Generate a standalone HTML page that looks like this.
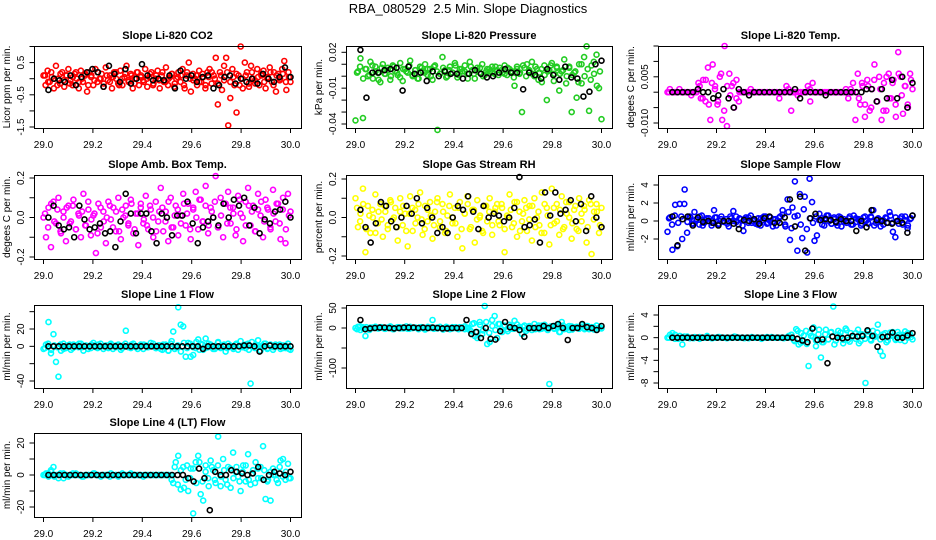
<!DOCTYPE html>
<html><head><meta charset="utf-8"><style>
body{margin:0;background:#fff;}
svg{display:block;font-family:"Liberation Sans",sans-serif;}
</style></head><body>
<svg id="chart" width="936" height="540" viewBox="0 0 936 540">
<rect width="936" height="540" fill="#fff"/>
<text x="468" y="13" text-anchor="middle" font-size="13">RBA_080529&#160; 2.5 Min. Slope Diagnostics</text>
</svg>
<script>
const xTicks = [29.0, 29.2, 29.4, 29.6, 29.8, 30.0];
const xTickLabels = ["29.0","29.2","29.4","29.6","29.8","30.0"];

const co2Vals = [0.1,-0.2,0.25,-0.1,0.05,-0.3,0.4,0.0,-0.15,0.2,-0.25,0.1,0.3,-0.05,-0.2,0.15,0.0,-0.3,0.25,-0.1,0.1,-0.4,0.2,0.05,-0.2,0.3,-0.1,0.0,0.15,-0.25,0.35,-0.05,0.1,-0.3,0.2,0.0,-0.15,0.25,-0.2,0.05,0.4,-0.1,0.15,-0.3,0.0,0.2,-0.2,0.1,-0.05,0.3,-0.25,0.05,0.2,-0.15,0.0,0.25,-0.3,0.1,-0.1,0.35,-0.2,0.05,0.15,-0.25,0.0,0.2,-0.1,0.3,-0.3,0.1,0.5,-0.4,0.15,0.0,-0.2,0.25,-0.1,0.05,-0.3,0.2,0.3,-0.15,0.1,0.65,-0.8,0.2,-0.35,0.4,0.65,-1.45,-0.6,0.3,-0.2,-1.05,0.1,1.0,-0.3,0.5,0.2,-0.25,0.4,0.0,-0.15,0.3,-0.2,0.1,0.25,-0.3,0.05,0.35,-0.1,0.2,-0.4,0.15,0.0,0.3,0.55,-0.35,0.2,-0.1];
const co2Core = [0.1,-0.1,0.2,0.0,-0.2,0.15,-0.05,0.1,-0.15,0.05,0.2,-0.1,0.0,0.15,-0.2,0.1,-0.05,0.2,0.0,-0.15,0.1,-0.1,0.05,0.2,-0.2,0.0,0.15,-0.05,0.1,-0.15,0.2,0.05,-0.1,0.0,0.15,-0.2,0.1,-0.05,0.2,-0.1,0.0,0.15,-0.15,0.05,0.1,-0.2,0.2,0.0,-0.05,0.1,-0.1,0.15,-0.2,0.05,0.2,0.0,-0.15,0.1,-0.05,0.2,-0.1,0.05,0.15,-0.2,0.0,0.1,-0.15,0.2,-0.05,0.05,0.15,-0.1,0.0,0.2,-0.2,0.1,-0.05,0.15,-0.1,0.05];
const co2Blk = [-0.35,0.0,-0.05,-0.1,0.1,-0.2,0.05,0.2,0.3,0.2,-0.25,0.4,0.15,-0.1,0.3,-0.15,0.0,0.45,0.1,-0.05,0.0,-0.05,0.1,-0.3,0.25,0.0,0.1,-0.1,0.05,0.1,-0.3,-0.2,0.05,0.1,-0.15,0.0,-0.1,0.0,-0.15,0.15,0.0,-0.1,0.05,0.35,0.05];
const presVals = [-0.037,0.004,0.015,-0.035,0.006,0.0,0.012,-0.002,0.008,0.003,-0.005,0.01,0.002,0.007,-0.003,0.009,0.004,0.001,0.011,-0.004,0.006,0.003,0.013,0.0,0.005,-0.002,0.008,0.004,0.01,0.001,0.006,-0.003,0.009,-0.045,0.002,0.016,0.005,0.0,0.008,0.003,0.011,-0.001,0.006,0.004,0.009,0.002,0.012,0.005,-0.002,0.007,0.003,0.01,0.001,0.006,0.004,0.008,0.002,0.005,0.007,0.003,0.009,0.001,0.006,0.004,-0.008,0.008,0.002,-0.03,0.007,0.01,0.004,0.012,0.0,0.006,0.003,-0.005,0.009,-0.02,0.005,0.011,0.002,0.008,-0.012,0.004,0.014,0.0,0.007,-0.03,0.003,-0.018,0.01,-0.006,0.016,0.025,-0.029,0.009,0.002,0.018,-0.01,-0.036];
const presCore = [0.003,0.008,-0.002,0.006,0.001,0.009,0.004,-0.003,0.007,0.002,0.005,0.0,0.008,0.003,-0.001,0.006,0.004,0.009,0.001,0.005,-0.002,0.007,0.003,0.006,0.0,0.008,0.004,0.002,0.007,-0.001,0.005,0.003,0.009,0.001,0.006,0.004,-0.002,0.008,0.002,0.005,0.007,0.0,0.004,0.006,0.003,0.008,0.001,0.005,0.002,0.007,0.004,-0.001,0.006,0.003,0.009,0.0,0.005,0.002,0.008,-0.003,0.006,0.001,0.004,0.009,-0.004,0.007,0.002,0.005,-0.006,0.008,0.001,0.004,-0.005,0.01,0.0,0.006,-0.003,0.012,-0.008,0.004];
const presBlk = [0.022,-0.018,0.003,0.003,0.005,0.006,0.007,-0.012,0.008,0.002,0.003,-0.004,0.004,0.0,0.004,0.002,0.002,-0.002,0.002,0.005,0.002,-0.001,0.0,0.003,0.006,0.003,0.003,-0.011,0.003,0.001,-0.002,0.006,0.001,-0.003,0.008,-0.001,-0.002,-0.017,-0.013,0.01,0.013];
const tempVals = [0,0.001,0,0,0,0.001,0,0,0,0,-0.001,0,0,0.003,-0.002,0.004,-0.003,0.008,-0.009,0.009,0.002,-0.004,0.005,-0.009,0.015,-0.011,0.006,0.002,-0.005,0.004,-0.003,0,0,0,0,0.001,0,0,0,0,0,0,0,0,0,0,0,-0.002,0,0,0.002,0,-0.006,0,0,0,0,0,0,0.002,-0.003,0.003,0,0,0,0,0,0,0,0,0,0,0,0,0,0.001,-0.002,0.001,0.003,-0.009,0.006,-0.004,0.002,-0.008,0.004,-0.006,0.001,0.009,-0.003,0.005,-0.009,0.003,-0.006,0.006,-0.002,0.004,-0.008,0.013,0.005,-0.007,0.002,-0.004,0.006,0.001];
const tempCore = [0,0,0,0,0,0,0,0,0,0,0.002,-0.002,0.004,-0.004,0.003,0.001,-0.003,0.006,-0.006,0.002,-0.001,0.003,-0.002,0,0,0,0,0,0,0,0,0,0,0,0,0,0,0,0,0.001,0,0,-0.001,0,0,0,0.001,0,0,0,0,0,0,0,0,0,0,0,0,0,0,0,-0.002,0.003,-0.004,0.002,-0.005,0.004,-0.003,0.001,-0.006,0.005,-0.002,0.003,-0.004,0.006,-0.001,0.002,-0.005,0.004];
const tempBlk = [0,0,0,0,0,0.001,0,0,-0.002,-0.001,0.001,-0.002,-0.005,0.001,0,-0.001,0,0,0,0,0,0,0,0,0.001,-0.002,0,0,0,0,-0.001,0,0,0,0,0,0,0,0.001,0.001,-0.003,0.001,-0.002,0.004,-0.002,0.005,-0.005,0.003];
const ambVals = [0.0,-0.1,0.05,-0.15,0.08,-0.03,0.1,-0.08,0.03,-0.12,0.06,-0.02,0.09,-0.06,0.02,-0.1,0.12,-0.04,0.04,-0.09,0.01,-0.18,0.07,-0.05,0.03,-0.13,0.08,-0.01,0.05,-0.07,0.1,-0.11,0.0,0.06,-0.04,0.09,-0.08,0.02,-0.14,0.07,-0.03,0.11,-0.06,0.04,-0.1,0.08,-0.02,0.15,-0.07,0.03,-0.12,0.1,-0.05,0.06,-0.09,0.01,0.12,-0.04,0.07,-0.11,0.04,0.13,-0.06,0.09,-0.02,0.16,-0.08,0.05,0.0,0.21,-0.05,0.1,-0.1,0.07,0.13,-0.03,0.05,-0.09,0.11,0.02,-0.12,0.08,0.15,-0.04,0.06,-0.07,0.12,0.01,-0.1,0.09,0.04,-0.06,0.14,-0.02,0.07,-0.11,0.1,-0.13,0.12,0.03];
const ambCore = [0.02,-0.05,0.07,-0.02,0.04,-0.07,0.0,0.05,-0.03,0.06,-0.06,0.01,0.03,-0.04,0.08,-0.01,0.02,-0.08,0.05,-0.02,0.0,0.06,-0.05,0.03,-0.07,0.04,0.01,-0.03,0.07,-0.06,0.02,0.05,-0.01,-0.04,0.06,0.0,-0.07,0.03,0.05,-0.02,0.08,-0.05,0.01,0.04,-0.03,0.07,0.02,-0.06,0.05,0.0,0.09,-0.02,0.06,-0.04,0.03,0.08,-0.05,0.01,0.07,-0.03,0.05,0.02,-0.06,0.09,0.0,-0.04,0.06,0.03,-0.07,0.04,0.08,-0.02,0.05,-0.05,0.02,0.07,-0.03,0.04,-0.06,0.01];
const ambBlk = [0.0,0.06,-0.04,-0.06,-0.05,-0.1,0.06,-0.01,-0.06,-0.05,-0.03,-0.08,-0.07,-0.15,-0.02,0.12,0.02,-0.08,0.02,0.02,-0.07,-0.13,0.02,0.0,-0.09,0.01,0.01,0.08,-0.03,-0.13,-0.05,-0.02,0.0,-0.04,0.07,0.0,0.09,0.06,0.1,-0.04,0.05,-0.08,-0.01,-0.03,0.03,0.04,0.08,0.0];
const rhVals = [0.1,-0.05,0.02,0.15,-0.18,0.06,-0.08,0.0,0.12,-0.03,0.07,-0.1,0.03,-0.06,0.09,-0.01,0.05,-0.12,0.1,-0.04,0.02,-0.15,0.11,-0.07,0.04,0.0,0.13,-0.09,0.06,-0.02,0.08,-0.11,0.03,0.1,-0.05,0.07,-0.08,0.01,0.12,-0.03,0.05,-0.1,0.08,-0.16,0.02,0.11,-0.06,0.04,-0.13,0.09,0.0,-0.07,0.06,-0.02,0.1,-0.09,0.03,0.07,-0.04,0.05,-0.18,0.01,0.12,-0.05,0.08,-0.1,0.03,-0.02,0.09,-0.07,0.06,-0.12,0.1,0.0,-0.04,0.13,-0.08,0.05,-0.14,0.15,-0.03,0.07,-0.09,0.11,-0.05,0.02,0.08,-0.11,0.04,-0.06,0.1,-0.02,0.06,-0.13,0.09,-0.19,0.03,0.07,-0.08,0.05];
const rhCore = [0.05,-0.02,0.07,-0.06,0.01,0.04,-0.08,0.03,-0.01,0.06,-0.04,0.08,0.0,-0.05,0.03,0.06,-0.07,0.02,0.05,-0.03,0.07,-0.01,-0.06,0.04,0.01,-0.04,0.08,-0.02,0.03,-0.07,0.06,0.0,-0.03,0.05,-0.06,0.02,0.07,-0.05,0.04,-0.01,0.01,-0.08,0.06,0.03,-0.04,0.05,-0.02,0.07,-0.06,0.0,0.04,-0.03,0.08,-0.07,0.02,0.05,-0.01,0.06,-0.05,0.03,-0.08,0.07,0.01,-0.04,0.05,-0.02,0.04,-0.06,0.08,0.0,-0.03,0.06,-0.07,0.02,0.04,-0.05,0.07,-0.01,0.03,-0.04];
const rhBlk = [0.04,-0.05,-0.13,-0.03,0.08,0.06,-0.02,-0.05,0.0,0.06,0.02,0.1,-0.03,0.05,0.0,-0.08,-0.05,-0.08,0.0,0.06,0.04,0.11,0.03,-0.06,0.06,0.0,0.02,0.01,-0.02,0.0,0.05,0.21,-0.05,-0.04,-0.01,-0.13,0.13,0.01,0.13,0.02,0.04,0.09,-0.02,0.07,-0.07,0.11,0.0,-0.05];
const flowVals = [-1.2,0.4,-3.2,0.6,-2.8,1.9,-2.0,3.5,-1.3,0.5,-0.3,1.0,0.2,-0.4,0.6,-0.2,0.3,0.0,-0.5,1.2,0.4,-0.3,0.5,-0.1,0.2,-0.6,0.3,0.0,0.5,-0.4,0.2,-1.1,0.4,-0.2,0.6,0.0,-0.3,0.3,-0.5,0.1,0.5,-0.2,0.4,-0.6,0.2,0.0,0.5,1.2,-0.4,2.4,-2.1,1.5,4.4,-3.3,3.0,-1.9,2.7,-3.5,4.7,2.1,-2.2,-1.6,0.8,0.3,-0.5,0.6,0.0,-0.3,0.4,-0.2,0.5,-0.6,0.2,0.0,0.3,-0.4,0.6,-0.1,0.2,-0.5,0.4,0.0,-0.3,0.5,1.2,-0.2,0.3,-0.6,0.1,0.4,-0.2,0.6,-1.2,-1.8,0.0,0.3,-0.4,0.5,-0.8,0.2,0.6];
const flowCore = [0.3,-0.4,1.8,-0.2,0.5,1.9,-0.1,0.4,-0.3,0.2,0.5,-0.5,0.1,0.3,-0.2,0.4,-0.4,0.2,0.0,-0.3,0.5,1.1,-0.1,0.3,-0.5,0.2,0.4,-0.2,0.1,-0.4,0.3,0.5,-0.3,0.0,0.2,-0.5,0.4,0.7,-0.6,1.0,-0.8,0.5,0.6,-0.4,1.3,-0.9,0.3,-0.2,0.5,0.1,-0.4,0.3,0.6,-0.3,0.2,-0.5,0.4,0.0,-0.2,0.5,-0.4,0.3,0.1,-0.3,0.5,-0.2,0.4,-0.5,0.2,0.0,-0.4,0.3,1.0,-0.2,0.4,-0.3,0.5,0.1,-0.5,0.3];
const flowBlk = [0.5,-2.7,0.2,0.5,-0.5,0.4,-0.1,0.0,-0.2,-0.5,0.0,0.0,-0.3,-0.9,0.1,0.0,0.2,-0.3,0.3,0.5,-0.2,-0.2,0.4,2.4,-0.6,2.7,-3.3,0.3,0.8,0.1,0.2,0.1,-0.1,0.2,0.0,0.0,-1.1,0.0,-0.7,1.2,0.1,0.0,-0.2,-0.3,0.0,-0.2,-1.3,0.6];
const l1Vals = [-3,2,28,-8,14,-18,-35,-5,3,-2,1,-4,2,0,-1,3,-5,1,0,-2,4,-1,2,0,-3,1,-2,3,0,-1,2,-4,1,18,0,-2,3,-1,0,2,-3,1,-1,4,0,-2,1,-3,2,0,-5,3,17,-1,45,25,23,-12,4,-12,-10,-2,8,3,-4,9,-1,2,-3,0,5,-2,1,-6,3,0,-1,2,-4,6,0,-2,3,-43,-1,2,7,-5,0,3,-2,1,-4,2,0,-3,1,-2,3,-4];
const l1Core = [-2,3,-4,1,-1,2,-3,0,2,-2,1,3,-1,0,-3,2,1,-2,3,0,-1,2,-3,1,0,-2,3,-1,2,0,-3,1,2,-1,0,3,-2,1,-4,2,-5,6,-3,1,-6,4,-2,3,-1,5,-4,2,-2,3,0,-3,4,-1,2,-2,1,-3,3,0,-1,2,-4,5,-2,1,0,3,-3,2,-1,0,2,-2,1,-3];
const l1Blk = [0,0,0,0,0,0,0,0,0,0,0,0,0,0,0,0,0,0,0,0,0,0,0,0,0,0,0,0,0,0,-3,0,0,0,0,0,0,0,1,1,0,-6,0,1,0,0,0,0];
const l2Vals = [0,3,-5,2,-20,-2,1,0,3,-1,2,0,-2,1,4,-3,0,2,-1,1,0,-2,3,0,1,-1,2,0,-4,1,2,20,0,-1,3,-2,0,1,-3,2,0,-1,2,0,-3,1,-5,10,-20,-25,15,-15,55,-40,-35,20,30,-25,10,-10,5,-3,8,-2,18,0,3,-15,6,-2,4,-5,10,2,-3,6,0,-1,-140,4,-2,8,-10,15,-3,2,-5,4,0,3,-2,8,0,5,-3,2,-4,6,0,-1];
const l2Core = [-3,4,-2,2,-5,1,3,-1,2,-2,0,3,-3,1,2,-1,4,-2,0,1,-3,2,-1,3,0,-2,1,2,-4,3,0,-1,2,-3,1,4,-2,-8,12,-10,8,-6,15,-12,5,-5,10,-3,6,-8,4,-2,9,-4,3,-7,5,0,-3,6,-2,8,-5,4,-1,3,-10,6,-2,5,-4,2,0,3,-3,5,-1,2,-4,1];
const l2Blk = [20,-3,-1,0,1,1,0,-1,0,1,1,1,0,1,0,1,0,-1,-1,0,0,0,20,-15,-10,-25,0,-27,-29,-8,15,2,0,-5,-22,0,0,0,5,0,5,10,0,-30,0,0,10,2,0,-5,5];
const l3Vals = [0,0.5,0.8,-0.2,0,0.3,-1.2,0,0.2,-0.1,0,0.1,0,-0.2,0,0,0.3,0,-0.1,0,0,0.1,0,0,-0.1,0,0,0.2,0,0,0,-0.1,0,0,0.1,0,0,0,-0.2,0,0,0,0.1,0,0,0,0,-0.1,0,0.3,0.5,-0.4,1.5,-1.2,0.8,-0.6,1.2,-5,0.3,1.8,-1.5,0.6,-3.5,-0.8,1.4,-0.3,0.9,5.5,-0.5,1.2,0.2,-1.0,1.6,-0.4,0.8,0.3,-0.2,1.4,-0.6,0.4,-8,0.6,-0.3,1.2,0.2,2.3,-2.4,-3.2,0.8,-0.5,0.9,0.3,-0.2,1.0,-0.4,0.5,1.1,0.0,0.6,-0.3];
const l3Core = [0,0.3,0.5,-0.2,0,0.2,0,0,-0.1,0,0.1,0,0,0,-0.1,0,0.1,0,0,0,0,0,0.1,0,0,0,-0.1,0,0,0,0,0,0.1,0,0,0,0,0,0,0,0.5,-0.6,1.2,-0.9,0.4,-1.1,0.8,0.2,-0.5,1.4,-0.8,0.6,-0.3,1.0,-1.2,0.5,0.9,-0.4,1.3,-0.7,0.2,0.8,-1.0,0.6,-0.2,1.1,-0.5,0.4,0.9,-0.3,0.6,-0.8,0.3,1.0,-0.4,0.5,0.2,-0.6,0.8,0.1];
const l3Blk = [0,0,0,0,0,0,0,0,0,0,0,0,0,0,0,0,0,0,0,0,0,0,0,0,0,-0.2,-0.5,-0.8,1.6,-0.4,-0.3,-4.5,0.2,0,-0.1,0,0.3,0.2,0.3,1.3,0.3,-1.6,0.1,0.2,0.9,0,0,0.4,0.8];
const l4Vals = [0,1,-1,3,5,0,-2,0,1,0,-1,0,0,1,0,0,-1,0,0,0,1,0,0,-1,0,0,0,1,0,0,-1,0,0,0,0,1,0,0,0,0,-1,0,0,0,0,0,0,0,0,0,0,0,-5,8,12,-9,5,-3,-10,4,-24,8,12,-12,-16,6,-2,9,3,-5,24,-7,10,-3,5,-8,14,2,-1,-10,6,-4,13,-6,3,8,-2,5,18,-15,-3,-16,4,0,-5,9,10,-3,7,-2];
const l4Core = [0,1,2,-1,0,1,-2,0,0,1,0,0,-1,0,0,0,1,0,0,0,0,-1,0,0,0,1,0,0,0,0,0,0,0,0,0,0,0,0,0,0,0,-3,5,-6,3,-8,6,-2,4,-5,8,-4,2,-7,5,-3,6,-1,3,-6,4,-2,5,-4,2,6,-3,1,-5,4,-2,3,-4,2,0,-3,5,-1,2,-2];
const l4Blk = [0,0,0,0,0,0,0,0,0,0,0,0,0,0,0,0,0,0,0,0,0,0,0,0,0,0,-2,-4,4,-2,-22,2,0,0,3,2,1,0,1,5,-3,0,2,1,0,2];

const panelTitles = ["Slope Li-820 CO2","Slope Li-820 Pressure","Slope Li-820 Temp.","Slope Amb. Box Temp.","Slope Gas Stream RH","Slope Sample Flow","Slope Line 1 Flow","Slope Line 2 Flow","Slope Line 3 Flow","Slope Line 4 (LT) Flow"];
const yTitles = ["Licor ppm per min.","kPa per min.","degees C per min.","degees C per min.","percent per min.","ml/min per min.","ml/min per min.","ml/min per min.","ml/min per min.","ml/min per min."];
const yTickVals = [[-1.5,-1,-0.5,0,0.5,1],[0.02,0.01,0,-0.01,-0.02,-0.03,-0.04],[0.015,0.01,0.005,0,-0.005,-0.01],[-0.2,-0.1,0,0.1,0.2],[-0.2,-0.1,0,0.1,0.2],[-2,0,2,4],[-40,-20,0,20,40],[50,0,-50,-100],[4,2,0,-2,-4,-6,-8],[-20,-10,0,10,20]];
const yTickLabels = [{"-1.5":"-1.5","-0.5":"-0.5","0.5":"0.5"},{"0.02":"0.02","-0.01":"-0.01","-0.04":"-0.04"},{"0.005":"0.005","-0.01":"-0.010"},{"-0.2":"-0.2","0":"0.0","0.2":"0.2"},{"-0.2":"-0.2","0":"0.0","0.2":"0.2"},{"-2":"-2","0":"0","2":"2","4":"4"},{"-40":"-40","0":"0","20":"20"},{"50":"50","0":"0","-100":"-100"},{"4":"4","0":"0","-4":"-4","-8":"-8"},{"-20":"-20","0":"0","20":"20"}];
const seriesVals = [co2Vals,presVals,tempVals,ambVals,rhVals,flowVals,l1Vals,l2Vals,l3Vals,l4Vals];
const seriesCore = [co2Core,presCore,tempCore,ambCore,rhCore,flowCore,l1Core,l2Core,l3Core,l4Core];
const seriesBlk = [co2Blk,presBlk,tempBlk,ambBlk,rhBlk,flowBlk,l1Blk,l2Blk,l3Blk,l4Blk];
const seriesColors = ["#ff0000","#22cc22","#ff00ff","#ff00ff","#ffff00","#0000ff","#00ffff","#00ffff","#00ffff","#00ffff"];
// layout (not data)
const cols = [[34,301],[346,612],[658,923]];
const rows = [[46,128],[175,259],[305,388],[433,517]];
const yCal = [[1,46.5,-1.5,127],[0.02,52.3,-0.04,124],[0.015,46,-0.01,123],[0.2,178,-0.2,257],[0.2,179,-0.2,256],[4,185,-2,239],[20,329,-40,381],[50,308,-100,368],[4,315,-8,383],[20,443,-20,507]];

const NS="http://www.w3.org/2000/svg";
const svg=document.getElementById('chart');
function mk(tag,attrs,parent){const e=document.createElementNS(NS,tag);for(const k in attrs)e.setAttribute(k,attrs[k]);(parent||svg).appendChild(e);return e;}

for(let p=0;p<10;p++){
  const c=cols[p%3], r=rows[Math.floor(p/3)];
  const [L,R]=c,[T,B]=r;
  const x0=L+9.5,x1=R-10.5;
  const xs=v=>x0+(v-29)*(x1-x0);
  const [v1,p1,v2,p2]=yCal[p];
  const ys=v=>p1+(v-v1)*(p2-p1)/(v2-v1);
  const g=mk('g',{});
  
  
  const t=mk('text',{x:(L+R)/2,y:T-7,'text-anchor':'middle','font-size':11,'font-weight':'bold'},g);
  t.textContent=panelTitles[p];
  
  
  const pts=mk('g',{fill:'none','stroke-width':1.6},g);
  
  
  const vals=seriesVals[p];
  vals.forEach((v,i)=>{const ci=mk('circle',{cx:xs(29+i/(vals.length-1)),cy:ys(v),r:2.5,stroke:seriesColors[p]},pts);
    
    });
  const core=seriesCore[p];
  core.forEach((v,i)=>{const ci=mk('circle',{cx:xs(29+(i+0.5)/core.length),cy:ys(v),r:2.5,stroke:seriesColors[p]},pts);
    
    });
  const blk=seriesBlk[p];
  blk.forEach((v,i)=>{const ci=mk('circle',{cx:xs(29.02+0.98*i/(blk.length-1)),cy:ys(v),r:2.5,stroke:'#000'},pts);
    
    });
  const box=mk('rect',{x:L+0.5,y:T+0.5,width:R-L,height:B-T,fill:'none',stroke:'#000','stroke-width':1},g);
  
  
  const xa=mk('g',{},g);
  
  
  xTicks.forEach((v,i)=>{mk('line',{x1:xs(v),x2:xs(v),y1:B+0.5,y2:B+5,stroke:'#000'},xa);
    const tl=mk('text',{x:xs(v),y:B+20,'text-anchor':'middle','font-size':10},xa);tl.textContent=xTickLabels[i];});
  const ya=mk('g',{},g);
  
  
  const tv=yTickVals[p];
  tv.forEach(v=>{mk('line',{x1:L-4.5,x2:L+0.5,y1:ys(v),y2:ys(v),stroke:'#000'},ya);
    const lab=yTickLabels[p][String(v)];
    if(lab!==undefined){const tl=mk('text',{x:L-10,y:ys(v),'text-anchor':'middle','font-size':10,transform:`rotate(-90 ${L-10} ${ys(v)})`},ya);tl.textContent=lab;}});
  const yt=mk('text',{x:L-24,y:(T+B)/2,'text-anchor':'middle','font-size':10,transform:`rotate(-90 ${L-24} ${(T+B)/2})`},g);
  yt.textContent=yTitles[p];
  
  
}
</script>
</body></html>
